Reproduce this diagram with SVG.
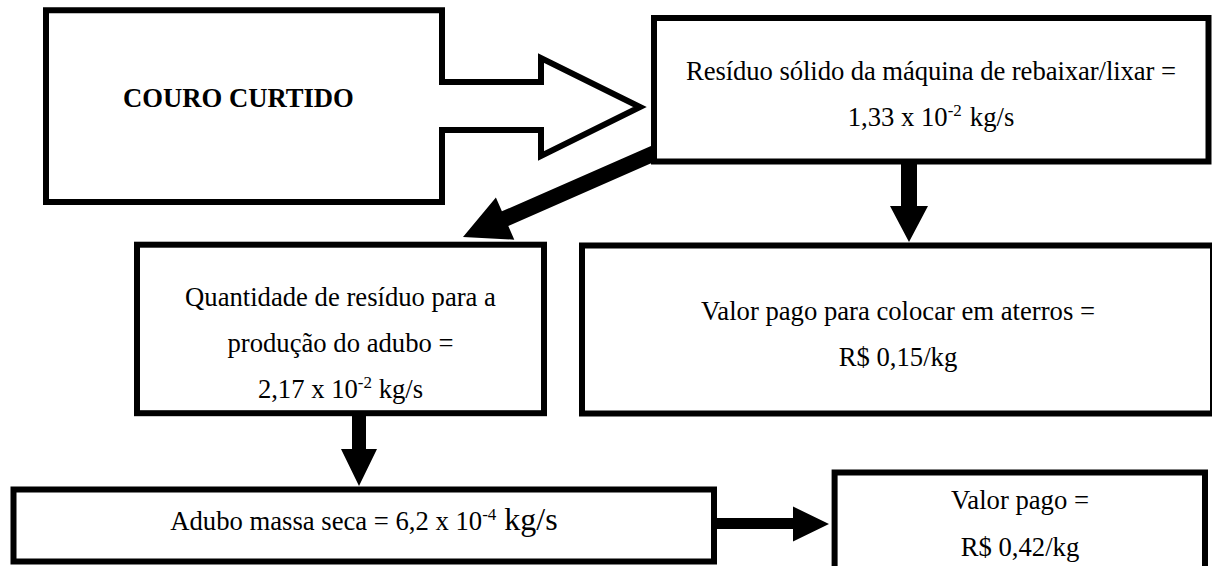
<svg xmlns="http://www.w3.org/2000/svg" width="1212" height="566" viewBox="0 0 1212 566">
<style>
.box{fill:#fff;stroke:#000;stroke-width:6;stroke-linejoin:miter;stroke-miterlimit:10}
.t{font-family:"Liberation Serif","Times New Roman",serif;font-size:26.67px;fill:#000;text-anchor:middle}
.b{font-weight:bold}
.sup{font-size:17px}
.big{font-size:32px}
.arr{fill:#000;stroke:none}
</style>
<rect width="1212" height="566" fill="#fff"/>
<g id="connectors">
<polygon class="arr" points="463,237 514.3,239.7 508.3,225.9 660.2,159.3 653.8,144.7 501.9,211.3 495.9,197.5"/>
<polygon class="arr" points="901,162 917,162 917,206 928,206 909,242 890,206 901,206"/>
<polygon class="arr" points="352,410 366,410 366,449 377,449 359,486 341,449 352,449"/>
<polygon class="arr" points="714,518 793,518 793,506.5 829,524 793,541.5 793,529 714,529"/>
</g>
<g id="couro">
<path class="box" d="M46,10.3 H442 V82 H541 V58 L640,107 L541,156 V130 H442 V202 H46 Z"/>
<text class="t b" x="123" y="107" style="text-anchor:start">COURO CURTIDO</text>
</g>
<g id="residuo">
<rect class="box" x="654" y="18" width="554.5" height="143.5"/>
<text class="t" x="931" y="80" textLength="490" lengthAdjust="spacing">Resíduo sólido da máquina de rebaixar/lixar =</text>
<text class="t" x="931" y="126">1,33 x 10<tspan class="sup" dy="-10">-2</tspan><tspan dy="10" dx="8">kg/s</tspan></text>
</g>
<g id="quantidade">
<rect class="box" x="137" y="244.7" width="407" height="168.5"/>
<text class="t" x="340.5" y="306">Quantidade de resíduo para a</text>
<text class="t" x="340.5" y="352">produção do adubo =</text>
<text class="t" x="340.5" y="398">2,17 x 10<tspan class="sup" dy="-10">-2</tspan><tspan dy="10"> kg/s</tspan></text>
</g>
<g id="aterros">
<rect class="box" x="582" y="245.5" width="631" height="168"/>
<text class="t" x="898" y="320">Valor pago para colocar em aterros =</text>
<text class="t" x="898" y="366">R$ 0,15/kg</text>
</g>
<g id="adubo">
<rect class="box" x="13.5" y="489.5" width="700.5" height="72"/>
<text class="t" x="364" y="530">Adubo massa seca = 6,2 x 10<tspan class="sup" dy="-10">-4</tspan><tspan class="big" dy="10"> kg/s</tspan></text>
</g>
<g id="valor">
<rect class="box" x="834.6" y="472.5" width="370.4" height="110"/>
<text class="t" x="1020" y="509">Valor pago =</text>
<text class="t" x="1020" y="556">R$ 0,42/kg</text>
</g>
</svg>
